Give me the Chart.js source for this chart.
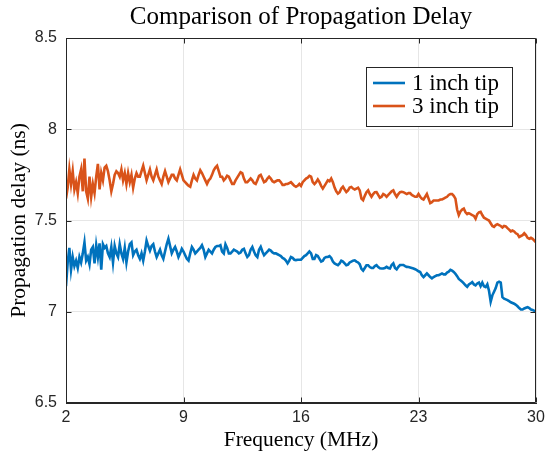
<!DOCTYPE html>
<html><head><meta charset="utf-8">
<script src="https://cdn.jsdelivr.net/npm/chart.js@4.4.1/dist/chart.umd.min.js"></script>
<style>html,body{margin:0;padding:0;background:#fff}#wrap{width:545px;height:456px;position:relative}</style>
</head><body><div id="wrap"><canvas id="c" width="545" height="456"></canvas></div>
<script>
// Frequency axis: 2 MHz to 30 MHz, one sample every 0.1 MHz
const freqStart = 2;
const freqStep = 0.1;

// Propagation delay (ns), 1 inch tip
const delay1inch = [
  7.14,7.27,7.35,7.23,7.30,7.25,7.28,7.24,7.30,7.27,
  7.32,7.38,7.28,7.30,7.26,7.34,7.355,7.265,7.365,7.30,
  7.375,7.23,7.37,7.35,7.36,7.32,7.30,7.355,7.27,7.36,
  7.32,7.30,7.37,7.32,7.29,7.35,7.27,7.33,7.37,7.38,
  7.31,7.33,7.34,7.31,7.29,7.32,7.28,7.33,7.39,7.36,
  7.335,7.36,7.37,7.33,7.30,7.32,7.34,7.31,7.29,7.33,
  7.37,7.40,7.36,7.32,7.34,7.355,7.33,7.30,7.32,7.345,
  7.33,7.31,7.29,7.28,7.32,7.355,7.34,7.32,7.33,7.34,
  7.35,7.365,7.34,7.30,7.32,7.34,7.33,7.32,7.34,7.355,
  7.36,7.36,7.365,7.33,7.32,7.37,7.35,7.32,7.32,7.33,
  7.34,7.335,7.33,7.32,7.325,7.34,7.345,7.32,7.30,7.31,
  7.34,7.355,7.33,7.31,7.30,7.34,7.356,7.33,7.31,7.32,
  7.33,7.34,7.335,7.325,7.32,7.32,7.315,7.31,7.305,7.295,
  7.29,7.28,7.265,7.28,7.30,7.295,7.285,7.283,7.285,7.285,
  7.285,7.295,7.305,7.31,7.32,7.33,7.32,7.29,7.29,7.31,
  7.305,7.29,7.275,7.28,7.295,7.30,7.30,7.305,7.295,7.275,
  7.265,7.26,7.255,7.265,7.28,7.275,7.265,7.255,7.258,7.27,
  7.275,7.28,7.282,7.275,7.27,7.26,7.235,7.225,7.24,7.255,
  7.255,7.245,7.24,7.24,7.25,7.255,7.245,7.238,7.237,7.237,
  7.24,7.246,7.24,7.237,7.256,7.265,7.24,7.232,7.246,7.256,
  7.256,7.256,7.25,7.246,7.245,7.243,7.24,7.237,7.233,7.228,
  7.222,7.218,7.20,7.19,7.20,7.21,7.20,7.19,7.183,7.19,
  7.195,7.20,7.20,7.205,7.21,7.205,7.205,7.215,7.22,7.23,
  7.225,7.218,7.208,7.195,7.18,7.172,7.165,7.155,7.145,7.137,
  7.15,7.155,7.162,7.15,7.145,7.155,7.16,7.14,7.16,7.14,
  7.135,7.15,7.115,7.055,7.09,7.11,7.13,7.16,7.165,7.16,
  7.08,7.072,7.068,7.064,7.058,7.052,7.048,7.044,7.038,7.03,
  7.02,7.012,7.012,7.018,7.022,7.025,7.02,7.012,7.01,7.005,
  7.00
];

// Propagation delay (ns), 3 inch tip
const delay3inch = [
  7.62,7.68,7.78,7.70,7.77,7.67,7.71,7.65,7.74,7.78,
  7.66,7.84,7.66,7.62,7.74,7.63,7.70,7.65,7.74,7.81,
  7.67,7.76,7.72,7.79,7.80,7.77,7.72,7.66,7.70,7.75,
  7.77,7.76,7.74,7.78,7.72,7.76,7.70,7.76,7.71,7.75,
  7.68,7.73,7.76,7.74,7.74,7.77,7.80,7.76,7.72,7.75,
  7.78,7.74,7.72,7.75,7.78,7.74,7.72,7.70,7.74,7.77,
  7.74,7.71,7.73,7.75,7.75,7.73,7.72,7.75,7.78,7.75,
  7.72,7.71,7.70,7.69,7.685,7.72,7.75,7.73,7.72,7.75,
  7.775,7.76,7.74,7.72,7.70,7.72,7.73,7.75,7.775,7.79,
  7.80,7.77,7.74,7.74,7.72,7.73,7.745,7.74,7.72,7.70,
  7.70,7.72,7.735,7.75,7.765,7.76,7.73,7.71,7.71,7.72,
  7.73,7.72,7.705,7.70,7.72,7.745,7.75,7.73,7.71,7.715,
  7.73,7.74,7.73,7.715,7.71,7.715,7.72,7.72,7.71,7.695,
  7.695,7.70,7.70,7.705,7.71,7.70,7.69,7.685,7.69,7.70,
  7.69,7.71,7.72,7.73,7.735,7.745,7.74,7.71,7.70,7.71,
  7.725,7.71,7.69,7.675,7.69,7.705,7.72,7.715,7.73,7.71,
  7.68,7.66,7.647,7.655,7.675,7.685,7.67,7.656,7.665,7.68,
  7.684,7.675,7.67,7.675,7.68,7.665,7.62,7.611,7.635,7.655,
  7.665,7.645,7.63,7.645,7.655,7.656,7.64,7.625,7.63,7.645,
  7.64,7.63,7.64,7.65,7.66,7.665,7.645,7.63,7.645,7.655,
  7.657,7.655,7.65,7.645,7.65,7.65,7.64,7.635,7.63,7.63,
  7.645,7.63,7.62,7.615,7.63,7.645,7.62,7.595,7.60,7.61,
  7.61,7.61,7.61,7.615,7.615,7.62,7.625,7.63,7.64,7.645,
  7.645,7.635,7.62,7.56,7.53,7.55,7.56,7.565,7.545,7.535,
  7.54,7.535,7.53,7.525,7.51,7.535,7.545,7.548,7.53,7.515,
  7.51,7.505,7.50,7.485,7.47,7.465,7.475,7.48,7.475,7.47,
  7.462,7.47,7.468,7.458,7.45,7.44,7.445,7.44,7.43,7.425,
  7.41,7.415,7.42,7.43,7.42,7.405,7.40,7.405,7.40,7.39,
  7.38
];

const seriesLabels = ['1 inch tip', '3 inch tip'];
const xTickValues = [2, 9, 16, 23, 30];
const yTickValues = [6.5, 7, 7.5, 8, 8.5];

const frequency = delay1inch.map((_, i) => Math.round((freqStart + i * freqStep) * 10) / 10);
const toPoints = arr => arr.map((v, i) => ({ x: frequency[i], y: v }));

const AX = '#262626';
const GRID = '#e6e6e6';
const SERIF = '"Liberation Serif", "Times New Roman", serif';
const SANS = '"Liberation Sans", Arial, sans-serif';

const boxPlugin = {
  id: 'matlabBox',
  afterDatasetsDraw(chart) {
    const { ctx, chartArea: a, scales: { x, y } } = chart;
    ctx.save();
    ctx.strokeStyle = AX;
    ctx.lineWidth = 1;
    ctx.beginPath();
    const L = Math.round(a.left) + 0.5, R = Math.round(a.right) - 0.5;
    const T = Math.round(a.top) + 0.5, B = Math.round(a.bottom) - 0.5;
    ctx.moveTo(L, T); ctx.lineTo(R, T); ctx.lineTo(R, B); ctx.lineTo(L, B); ctx.closePath();
    const tl = 5;
    xTickValues.forEach(v => {
      const px = Math.round(x.getPixelForValue(v)) + 0.5;
      ctx.moveTo(px, B); ctx.lineTo(px, B - tl);
      ctx.moveTo(px, T); ctx.lineTo(px, T + tl);
    });
    yTickValues.forEach(v => {
      const py = Math.round(y.getPixelForValue(v)) + 0.5;
      ctx.moveTo(L, py); ctx.lineTo(L + tl, py);
      ctx.moveTo(R, py); ctx.lineTo(R - tl, py);
    });
    ctx.stroke();
    ctx.restore();
  }
};

const legendPlugin = {
  id: 'insideLegend',
  afterDraw(chart) {
    const { ctx, chartArea: a } = chart;
    const bw = 146, bh = 59;
    const bx = a.right - 24 - bw, by = a.top + 29;
    ctx.save();
    ctx.fillStyle = '#fff';
    ctx.fillRect(bx, by, bw, bh);
    ctx.strokeStyle = AX;
    ctx.lineWidth = 1;
    ctx.strokeRect(Math.round(bx) + 0.5, Math.round(by) + 0.5, bw, bh);
    ctx.font = '23px ' + SERIF;
    ctx.textBaseline = 'middle';
    ctx.fillStyle = '#000';
    chart.data.datasets.forEach((ds, i) => {
      const cy = by + 16 + i * 23;
      ctx.strokeStyle = ds.borderColor;
      ctx.lineWidth = 2.6;
      ctx.beginPath();
      ctx.moveTo(bx + 7, cy); ctx.lineTo(bx + 39, cy);
      ctx.stroke();
      ctx.fillText(ds.label, bx + 46, cy + 1);
    });
    ctx.restore();
  }
};

new Chart(document.getElementById('c'), {
  type: 'line',
  data: {
    datasets: [
      { label: seriesLabels[0], data: toPoints(delay1inch), borderColor: '#0072BD', backgroundColor: '#0072BD', borderWidth: 2.6, pointRadius: 0, tension: 0 },
      { label: seriesLabels[1], data: toPoints(delay3inch), borderColor: '#D95319', backgroundColor: '#D95319', borderWidth: 2.6, pointRadius: 0, tension: 0 }
    ]
  },
  options: {
    responsive: false,
    animation: false,
    events: [],
    layout: { padding: { left: 0, right: 9, top: 0, bottom: 0 } },
    plugins: {
      legend: { display: false },
      tooltip: { enabled: false },
      title: {
        display: true,
        text: 'Comparison of Propagation Delay',
        fullSize: false,
        color: '#000',
        font: { family: SERIF, size: 25, weight: 'normal', lineHeight: 1.2 },
        padding: { top: 2, bottom: 6 }
      }
    },
    scales: {
      x: {
        type: 'linear', min: 2, max: 30,
        afterBuildTicks: s => { s.ticks = xTickValues.map(v => ({ value: v })); },
        afterFit: s => { s.height = 53; s.paddingRight = 0; s.paddingLeft = 0; },
        ticks: { color: AX, font: { family: SANS, size: 16 }, padding: 5, maxRotation: 0 },
        grid: { color: GRID, drawTicks: false, lineWidth: 1 },
        border: { display: true, color: AX, width: 1 },
        title: { display: true, text: 'Frequency (MHz)', color: '#000', font: { family: SERIF, size: 21.5, lineHeight: 1.2 }, padding: { top: 0, bottom: 3 } }
      },
      y: {
        type: 'linear', min: 6.5, max: 8.5,
        afterBuildTicks: s => { s.ticks = yTickValues.map(v => ({ value: v })); },
        afterFit: s => { s.width = 66; },
        ticks: { color: AX, font: { family: SANS, size: 16 }, padding: 9, callback: v => String(v) },
        grid: { color: GRID, drawTicks: false, lineWidth: 1 },
        border: { display: true, color: AX, width: 1 },
        title: { display: true, text: 'Propagation delay (ns)', color: '#000', font: { family: SERIF, size: 21.5, lineHeight: 1.2 }, padding: { top: 6, bottom: 0 } }
      }
    }
  },
  plugins: [boxPlugin, legendPlugin]
});
</script>
</body></html>
